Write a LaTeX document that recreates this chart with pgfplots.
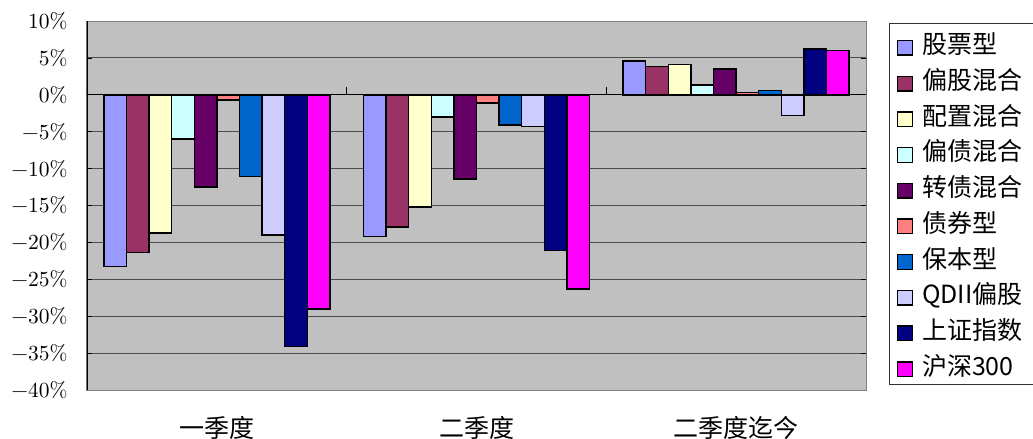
\documentclass[border=0pt]{standalone}
\usepackage{fontspec}
\usepackage{pgfplots}
\pgfplotsset{compat=1.18}
\newfontfamily\cjk{Noto Sans CJK SC}
\newfontfamily\tickfont{lmroman10-regular.otf}
\definecolor{cA}{HTML}{9999FF}
\definecolor{cB}{HTML}{993366}
\definecolor{cC}{HTML}{FFFFCC}
\definecolor{cD}{HTML}{CCFFFF}
\definecolor{cE}{HTML}{660066}
\definecolor{cF}{HTML}{FF8080}
\definecolor{cG}{HTML}{0066CC}
\definecolor{cH}{HTML}{CCCCFF}
\definecolor{cI}{HTML}{000080}
\definecolor{cJ}{HTML}{FF00FF}
\definecolor{plotbg}{HTML}{C0C0C0}
\begin{document}
\begin{tikzpicture}
\draw[black!80, line width=1bp, fill=white] (802bp,5bp) rectangle (960bp,366bp);
\begin{axis}[
  scale only axis, width=779bp, height=369bp,
  at={(0,0)}, anchor=south west,
  ybar=0pt, bar width=22.6bp,
  every axis plot/.append style={draw=black, line width=1.4bp,
    legend image code/.code={\draw[##1, line width=1.4bp] (0bp,-7.3bp) rectangle (14.6bp,7.3bp);}},
  xmin=-0.5, xmax=2.5, ymin=-40, ymax=10,
  xtick={0,1,2}, xticklabels={一季度,二季度,二季度迄今},
  xticklabel style={font=\cjk\fontsize{25bp}{28bp}\selectfont, yshift=-18bp},
  x tick style={draw=none},
  ytick={-40,-35,...,10},
  yticklabels={−40\%,−35\%,−30\%,−25\%,−20\%,−15\%,−10\%,−5\%,0\%,5\%,10\%},
  yticklabel style={font=\tickfont\fontsize{21.5bp}{24bp}\selectfont, xshift=-16bp},
  ytick align=inside, major tick length=5bp,
  y tick style={black, line width=0.8bp},
  ymajorgrids, grid style={black!70, line width=0.9bp},
  axis background/.style={fill=plotbg},
  axis line style={draw=black!50, line width=1bp},
  legend style={at={(rel axis cs:1.0398,0.957)}, anchor=north west,
    draw=none, fill=none, inner sep=0pt, outer sep=0pt,
    nodes={font=\cjk\fontsize{25bp}{28bp}\selectfont, inner sep=0pt,
      text height=17bp, text depth=5bp},
    row sep=13.7bp, column sep=9bp,
    cells={anchor=west}},
  legend cell align=left,
]
\addplot[fill=cA] coordinates {(0,-23.3) (1,-19.2) (2,4.6)};
\addplot[fill=cB] coordinates {(0,-21.4) (1,-17.9) (2,3.8)};
\addplot[fill=cC] coordinates {(0,-18.7) (1,-15.2) (2,4.1)};
\addplot[fill=cD] coordinates {(0,-6.0) (1,-3.0) (2,1.35)};
\addplot[fill=cE] coordinates {(0,-12.5) (1,-11.4) (2,3.5)};
\addplot[fill=cF] coordinates {(0,-0.7) (1,-1.1) (2,0.3)};
\addplot[fill=cG] coordinates {(0,-11.1) (1,-4.1) (2,0.6)};
\addplot[fill=cH] coordinates {(0,-19.0) (1,-4.3) (2,-2.8)};
\addplot[fill=cI] coordinates {(0,-34.1) (1,-21.1) (2,6.2)};
\addplot[fill=cJ] coordinates {(0,-29.0) (1,-26.3) (2,6.0)};
\legend{股票型,偏股混合,配置混合,偏债混合,转债混合,债券型,保本型,QDII偏股,上证指数,沪深300}
\draw[black, line width=1bp] (axis cs:-0.5,0) -- (axis cs:2.5,0);
\pgfplotsinvokeforeach{-0.5,0.5,1.5,2.5}{\draw[black, line width=1bp] (axis cs:#1,0) -- (axis cs:#1,1.1);}
\draw[black, line width=1.2bp] (rel axis cs:0,0) -- (rel axis cs:0,1);
\end{axis}
\pgfresetboundingbox
\path[use as bounding box] (-87bp,-49bp) rectangle (946bp,390bp);
\end{tikzpicture}
\end{document}
